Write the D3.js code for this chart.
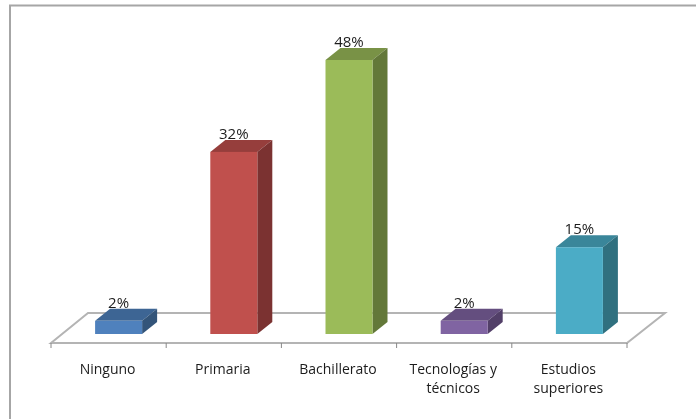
<!DOCTYPE html>
<html><head><meta charset="utf-8">
<style>html,body{margin:0;padding:0;background:#fff}svg{display:block}text{font-family:"Open Sans","Noto Sans",sans-serif;fill:#1c1c1c}#all{filter:blur(0.4px)}</style>
<script src="https://cdn.jsdelivr.net/npm/d3@7"></script></head>
<body><svg id="c" width="696" height="419"><g id="all"></g></svg>
<script>
const categories=["Ninguno","Primaria","Bachillerato","Tecnologías y|técnicos","Estudios|superiores"];
const values=[2.3,31.9,48,2.3,15.2];
const front=["#4f81bd","#c0504d","#9bbb59","#8064a2","#4bacc6"];
const topc=["#3d6594","#963e3c","#799246","#644e7f","#3a869a"];
const side=["#335479","#7b3231","#637839","#523f68","#30707f"];
const svg=d3.select("#all");
const x=d3.scaleBand().domain(categories).range([51,627]);
const y=d3.scaleLinear().domain([0,48]).range([334,60]);
const dx=15,dy=12,shift=10;
const g="#b4b4b4";
svg.append("path").attr("d","M10,419V5.5H696").attr("fill","none").attr("stroke","#a6a6a6").attr("stroke-width",2);
const b=343;
svg.append("path").attr("d",`M51,${b}L${51+37},${b-30}H${627+38}L627,${b}Z`).attr("fill","#fff").attr("stroke",g).attr("stroke-width",2);
d3.range(6).forEach(i=>{const tx=51+i*576/5;svg.append("line").attr("x1",tx).attr("x2",tx).attr("y1",b).attr("y2",b+5).attr("stroke","#888").attr("stroke-width",1);});
const w=47;
categories.forEach((c,i)=>{
 const cc=x(c)+x.bandwidth()/2, cx=cc+shift, l=cx-w/2, r=cx+w/2, t=y(values[i]), bo=y(0);
 svg.append("path").attr("d",`M${l},${t}L${l+dx},${t-dy}H${r+dx}L${r},${t}Z`).attr("fill",topc[i]);
 svg.append("path").attr("d",`M${r},${t}L${r+dx},${t-dy}V${bo-dy}L${r},${bo}Z`).attr("fill",side[i]);
 svg.append("rect").attr("x",l).attr("y",t).attr("width",w).attr("height",bo-t).attr("fill",front[i]);
 svg.append("text").attr("x",cx).attr("y",t-dy-1).attr("text-anchor","middle").attr("font-size",15).text(Math.round(values[i])+"%");
 c.split("|").forEach((s,k)=>svg.append("text").attr("x",cc-1).attr("y",374+k*19).attr("text-anchor","middle").attr("font-size",14).text(s));
});
</script></body></html>
